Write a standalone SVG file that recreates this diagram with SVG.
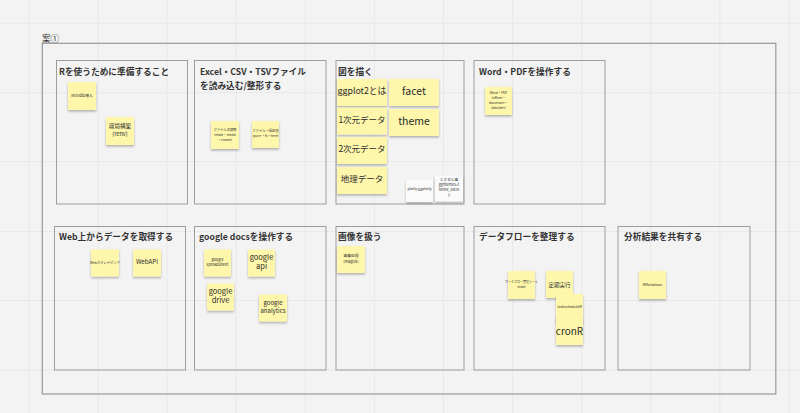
<svg xmlns="http://www.w3.org/2000/svg" width="800" height="413" viewBox="0 0 800 413">
<style>
text{font-family:"Noto Sans CJK JP","Noto Sans",sans-serif;fill:#2b2b2b}
.grid line{stroke:#e8e8e8;stroke-width:1}
.frame{fill:none;stroke:#9a9a9a;stroke-width:1.2}
.box{fill:none;stroke:#9d9d9d;stroke-width:1}
.title{font-size:8.7px;font-weight:bold;fill:#333}
.sticky{fill:#fef7ab;filter:url(#sh)}
.white{fill:#fafafa;filter:url(#sh)}
.t{text-anchor:middle}
</style>
<defs>
<filter id="sh" x="-20%" y="-20%" width="140%" height="150%">
<feDropShadow dx="0" dy="1.6" stdDeviation="0.9" flood-color="#000" flood-opacity="0.28"/>
</filter>
</defs>
<rect x="0" y="0" width="800" height="413" fill="#f3f3f3"/>
<g class="grid">
<line x1="28.9" y1="0" x2="28.9" y2="413"/><line x1="98" y1="0" x2="98" y2="413"/><line x1="167.1" y1="0" x2="167.1" y2="413"/><line x1="236.2" y1="0" x2="236.2" y2="413"/><line x1="305.3" y1="0" x2="305.3" y2="413"/><line x1="374.4" y1="0" x2="374.4" y2="413"/><line x1="443.5" y1="0" x2="443.5" y2="413"/><line x1="512.6" y1="0" x2="512.6" y2="413"/><line x1="581.7" y1="0" x2="581.7" y2="413"/><line x1="650.8" y1="0" x2="650.8" y2="413"/><line x1="719.9" y1="0" x2="719.9" y2="413"/><line x1="789" y1="0" x2="789" y2="413"/>
<line x1="0" y1="23.3" x2="800" y2="23.3"/><line x1="0" y1="92.7" x2="800" y2="92.7"/><line x1="0" y1="161.7" x2="800" y2="161.7"/><line x1="0" y1="231.7" x2="800" y2="231.7"/><line x1="0" y1="300.5" x2="800" y2="300.5"/><line x1="0" y1="370" x2="800" y2="370"/>
</g>
<g id="frame">
<text x="42" y="41.5" style="font-size:8.6px">案①</text>
<rect class="frame" x="42.3" y="43.3" width="733.5" height="350.7"/>
</g>
<g id="connectors"></g>
<g id="box-prepare">
<rect class="box" x="56.5" y="60.5" width="131" height="143.5"/>
<text class="title" x="59" y="75">Rを使うために準備すること</text>
<rect class="sticky" x="68" y="82" width="28" height="28"/>
<text class="t" x="82" y="97" style="font-size:3.8px">RStudio導入</text>
<rect class="sticky" x="106" y="117" width="28" height="28"/>
<text class="t" x="120" y="128" style="font-size:5.6px">環境構築</text>
<text class="t" x="120" y="136" style="font-size:5.6px">(renv)</text>
</g>
<g id="box-excel">
<rect class="box" x="194.5" y="60.5" width="131.5" height="143.5"/>
<text class="title" x="200" y="75">Excel・CSV・TSVファイル</text>
<text class="title" x="200" y="88.5">を読み込む/整形する</text>
<rect class="sticky" x="211" y="121" width="28" height="28"/>
<text class="t" x="225" y="130.5" style="font-size:3.3px">ファイルの読取</text>
<text class="t" x="225" y="135.5" style="font-size:3.3px">(readr・readxl</text>
<text class="t" x="225" y="140.5" style="font-size:3.3px">・vroom)</text>
<rect class="sticky" x="252" y="121" width="27" height="27"/>
<text class="t" x="265.5" y="132" style="font-size:3.3px">ファイル一括処理</text>
<text class="t" x="265.5" y="137" style="font-size:3.3px">(purrr・fs・here)</text>
</g>
<g id="box-plot">
<rect class="box" x="336" y="60.5" width="128" height="143.5"/>
<text class="title" x="338" y="74.5">図を描く</text>
<rect class="sticky" x="337" y="79" width="50" height="27"/>
<text class="t" x="362" y="94" style="font-size:8.8px">ggplot2とは</text>
<rect class="sticky" x="389" y="79" width="50" height="27"/>
<text class="t" x="414" y="94.5" style="font-size:10.5px">facet</text>
<rect class="sticky" x="337" y="107.5" width="50" height="27"/>
<text class="t" x="362" y="122.5" style="font-size:8.5px">1次元データ</text>
<rect class="sticky" x="389" y="109" width="50" height="27"/>
<text class="t" x="414" y="124.5" style="font-size:10.5px">theme</text>
<rect class="sticky" x="337" y="137" width="50" height="27"/>
<text class="t" x="362" y="152" style="font-size:8.5px">2次元データ</text>
<rect class="sticky" x="337" y="167" width="50" height="27"/>
<text class="t" x="362" y="182" style="font-size:8.5px">地理データ</text>
<rect class="white" x="406" y="180" width="27" height="22"/>
<text class="t" x="419.5" y="189.5" style="font-size:3.6px">plotly ggplotly</text>
<rect class="white" x="435" y="175.5" width="28" height="26"/>
<text class="t" x="449" y="181" style="font-size:3.7px">エクセル風</text>
<text class="t" x="449" y="186" style="font-size:3.7px">ggthemes::t</text>
<text class="t" x="449" y="191" style="font-size:3.7px">heme_excel</text>
<text class="t" x="449" y="196" style="font-size:3.7px">()</text>
</g>
<g id="box-word">
<rect class="box" x="474" y="60.5" width="131" height="143.5"/>
<text class="title" x="479" y="75">Word・PDFを操作する</text>
<rect class="sticky" x="485" y="87" width="27" height="28"/>
<text class="t" x="498.5" y="93.5" style="font-size:3.3px">Word・PDF</text>
<text class="t" x="498.5" y="98.5" style="font-size:3.3px">(officer・</text>
<text class="t" x="498.5" y="103.5" style="font-size:3.3px">docxtractr・</text>
<text class="t" x="498.5" y="108.5" style="font-size:3.3px">tabulizer)</text>
</g>
<g id="box-web">
<rect class="box" x="54.5" y="226.5" width="131" height="143.5"/>
<text class="title" x="59" y="240">Web上からデータを取得する</text>
<rect class="sticky" x="91" y="249.5" width="28" height="27"/>
<text class="t" x="105" y="263.5" style="font-size:3.3px">Webスクレイピング</text>
<rect class="sticky" x="133" y="249.5" width="28" height="27"/>
<text class="t" x="147" y="264" style="font-size:6.2px">WebAPI</text>
</g>
<g id="box-google">
<rect class="box" x="194.5" y="226.5" width="131.5" height="143.5"/>
<text class="title" x="199" y="240">google docsを操作する</text>
<rect class="sticky" x="204" y="249.5" width="27" height="27"/>
<text class="t" x="217.5" y="260.5" style="font-size:3.8px">google</text>
<text class="t" x="217.5" y="265.5" style="font-size:3.8px">spreadsheet</text>
<rect class="sticky" x="248" y="249.5" width="27" height="27"/>
<text class="t" x="261.5" y="259.5" style="font-size:7.5px">google</text>
<text class="t" x="261.5" y="269" style="font-size:7.5px">api</text>
<rect class="sticky" x="207" y="283.5" width="27" height="27"/>
<text class="t" x="220.5" y="293.5" style="font-size:7.5px">google</text>
<text class="t" x="220.5" y="303" style="font-size:7.5px">drive</text>
<rect class="sticky" x="259" y="294.5" width="28" height="27"/>
<text class="t" x="273" y="305" style="font-size:6px">google</text>
<text class="t" x="273" y="312.5" style="font-size:6px">analytics</text>
</g>
<g id="box-image">
<rect class="box" x="336" y="226.5" width="128" height="143.5"/>
<text class="title" x="338" y="240">画像を扱う</text>
<rect class="sticky" x="337" y="246" width="28" height="27"/>
<text class="t" x="351" y="257" style="font-size:3.8px">画像処理</text>
<text class="t" x="351" y="262.5" style="font-size:3.8px">(magick)</text>
</g>
<g id="box-flow">
<rect class="box" x="474" y="226.5" width="131" height="143.5"/>
<text class="title" x="479" y="240">データフローを整理する</text>
<rect class="sticky" x="508" y="271" width="27" height="28"/>
<text class="t" x="521.5" y="283" style="font-size:3px">ワークフロー管理ツール</text>
<text class="t" x="521.5" y="287.5" style="font-size:3px">drake</text>
<rect class="sticky" x="546" y="271" width="27" height="27"/>
<text class="t" x="559.5" y="286.5" style="font-size:5.5px">定期実行</text>
<rect class="sticky" x="556" y="294" width="27" height="28"/>
<text class="t" x="569.5" y="307.5" style="font-size:3.6px">taskscheduleR</text>
<rect class="sticky" x="556" y="317" width="27" height="28"/>
<text class="t" x="569.5" y="334.5" style="font-size:10px">cronR</text>
</g>
<g id="box-share">
<rect class="box" x="618" y="226.5" width="132" height="143.5"/>
<text class="title" x="624" y="240">分析結果を共有する</text>
<rect class="sticky" x="639" y="271" width="27" height="28"/>
<text class="t" x="652.5" y="285.5" style="font-size:3.5px">RMarkdown</text>
</g>
</svg>
